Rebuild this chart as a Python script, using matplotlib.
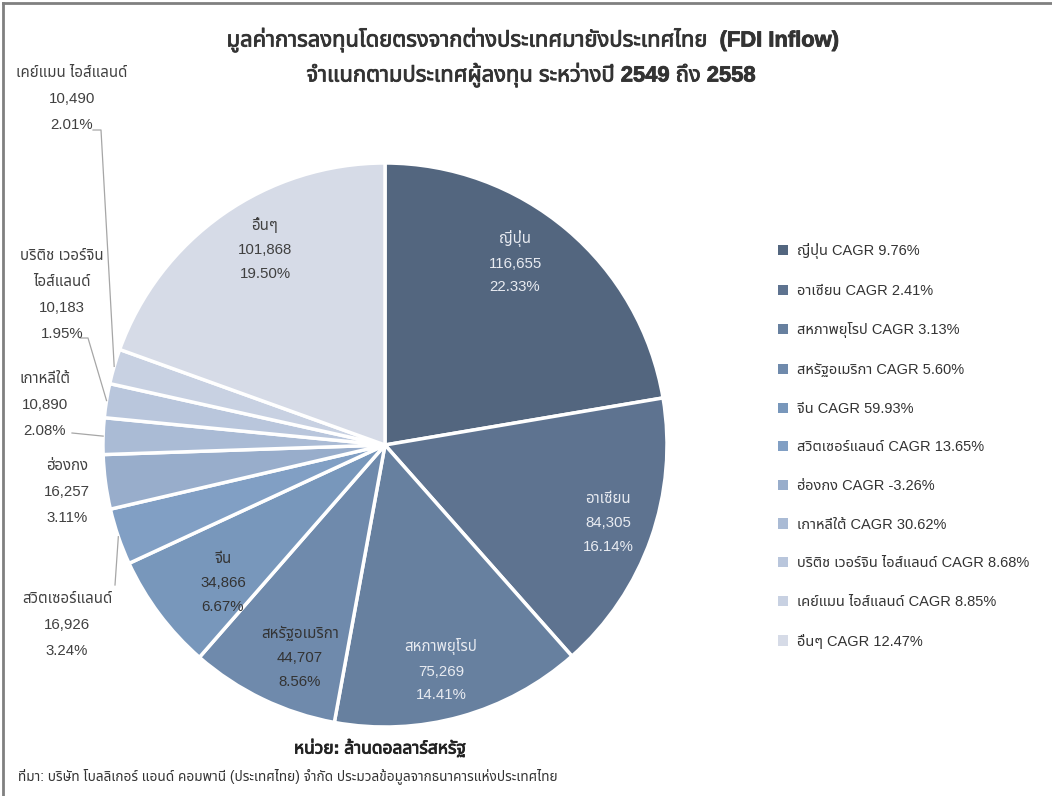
import matplotlib
matplotlib.use('Agg')
import matplotlib.pyplot as plt
import matplotlib.patheffects as pe
import numpy as np
from matplotlib import font_manager
from matplotlib.ft2font import FT2Font
from matplotlib.patches import Patch
from matplotlib.lines import Line2D

# Data (ล้านดอลลาร์สหรัฐ, 2549-2558)
countries = ['ญี่ปุ่น', 'อาเซียน', 'สหภาพยุโรป', 'สหรัฐอเมริกา', 'จีน', 'สวิตเซอร์แลนด์',
             'ฮ่องกง', 'เกาหลีใต้', 'บริติช เวอร์จิน ไอส์แลนด์', 'เคย์แมน ไอส์แลนด์', 'อื่นๆ']
values = [116655, 84305, 75269, 44707, 34866, 16926, 16257, 10890, 10183, 10490, 101868]
cagr = ['9.76%', '2.41%', '3.13%', '5.60%', '59.93%', '13.65%', '-3.26%', '30.62%',
        '8.68%', '8.85%', '12.47%']
colors = ['#53667f', '#5e7390', '#67809f', '#6f8aac', '#7897bb', '#819fc4',
          '#98adcb', '#aabbd5', '#b9c6dc', '#c8d1e2', '#d6dbe7']


# find a font that has Thai glyphs
def find_thai_font():
    found = {}
    for path in font_manager.findSystemFonts():
        try:
            f = FT2Font(path)
            if 0x0E01 in f.get_charmap():
                font_manager.fontManager.addfont(path)
                name = font_manager.FontProperties(fname=path).get_name()
                found.setdefault(name, path)
        except Exception:
            pass
    prefer = ['Tahoma', 'Arial Unicode MS', 'Noto Sans Thai', 'Noto Sans Thai UI', 'Loma',
              'Garuda', 'Sarabun', 'Leelawadee UI', 'Waree', 'Umpush', 'Norasi']
    for p in prefer:
        if p in found:
            return p
    return sorted(found)[0] if found else 'DejaVu Sans'


thai = find_thai_font()
fam = ['Liberation Sans', thai, 'DejaVu Sans']
plt.rcParams['font.family'] = fam

# fake bold (the Thai font may have no bold face)
bold_fx = lambda c: [pe.withStroke(linewidth=0.6, foreground=c)]

W, H = 1052, 796
fig = plt.figure(figsize=(W / 100, H / 100), dpi=100)

cx, cy, R = 385, 445, 282
ax = fig.add_axes([(cx - R) / W, (H - cy - R) / H, 2 * R / W, 2 * R / H])
wedges, _ = ax.pie(values, colors=colors, startangle=90, counterclock=False,
                   wedgeprops=dict(edgecolor='white', linewidth=2.5))
ax.set_xlim(-1, 1)
ax.set_ylim(-1, 1)
ax.set_aspect('equal')
ax.axis('off')


def px(x, y):
    return (x - cx) / R, (cy - y) / R


total = sum(values)
pcts = [f'{v / total * 100:.2f}%' for v in values]

# inside labels for the big slices (label centre in pixels, text colour)
inside = {
    0: ((515, 262), '#e8ebf1'),
    1: ((608, 523), '#e8ebf1'),
    2: ((441, 670), '#e8ebf1'),
    3: ((300, 657), '#333333'),
    4: ((223, 583), '#333333'),
    10: ((265, 249), '#404040'),
}
for i, (pos, col) in inside.items():
    tx, ty = px(*pos)
    ax.text(tx, ty, f'{countries[i]}\n{values[i]:,}\n{pcts[i]}',
            ha='center', va='center', fontsize=10.8, color=col, linespacing=1.9)

# outside labels with leader lines
outside = {
    5: ('สวิตเซอร์แลนด์', (67, 625), [(115, 585)]),
    6: ('ฮ่องกง', (67, 492), []),
    7: ('เกาหลีใต้', (45, 405), [(72, 433)]),
    8: ('บริติช เวอร์จิน\nไอส์แลนด์', (62, 295), [(80, 338), (88, 338)]),
    9: ('เคย์แมน ไอส์แลนด์', (72, 99), [(93, 130), (101, 130)]),
}
for i, (name, pos, pts) in outside.items():
    tx, ty = px(*pos)
    ax.text(tx, ty, f'{name}\n{values[i]:,}\n{pcts[i]}', ha='center', va='center',
            fontsize=10.8, color='#404040', linespacing=2.1, clip_on=False)
    if pts:
        w = wedges[i]
        ang = np.deg2rad((w.theta1 + w.theta2) / 2)
        xs = [px(*p)[0] for p in pts] + [np.cos(ang)]
        ys = [px(*p)[1] for p in pts] + [np.sin(ang)]
        ax.plot(xs, ys, color='#a6a6a6', lw=0.9, clip_on=False)

# legend
handles = [Patch(facecolor=c, edgecolor='none') for c in colors]
labels = [f'{n} CAGR {c}' for n, c in zip(countries, cagr)]
fig.legend(handles, labels, loc='upper left', bbox_to_anchor=(765 / W, 1 - 230 / H),
           frameon=False, fontsize=10.5, labelcolor='#333333', handlelength=0.7,
           handleheight=0.7, handletextpad=0.6, labelspacing=1.69)

# titles and notes
fig.text(533 / W, 1 - 40 / H, 'มูลค่าการลงทุนโดยตรงจากต่างประเทศมายังประเทศไทย  (FDI Inflow)',
         ha='center', va='center', fontsize=15.8, fontweight='bold', color='#333333',
         path_effects=bold_fx('#333333'))
fig.text(531 / W, 1 - 75 / H, 'จำแนกตามประเทศผู้ลงทุน ระหว่างปี 2549 ถึง 2558',
         ha='center', va='center', fontsize=15.8, fontweight='bold', color='#333333',
         path_effects=bold_fx('#333333'))
fig.text(380 / W, 1 - 748 / H, 'หน่วย: ล้านดอลลาร์สหรัฐ', ha='center', va='center',
         fontsize=12.5, fontweight='bold', color='#222222', path_effects=bold_fx('#222222'))
fig.text(18 / W, 1 - 776 / H,
         'ที่มา: บริษัท โบลลิเกอร์ แอนด์ คอมพานี (ประเทศไทย) จำกัด ประมวลข้อมูลจากธนาคารแห่งประเทศไทย',
         ha='left', va='center', fontsize=9.8, color='#333333')

# gray frame on top and left edges
fig.add_artist(Line2D([3 / W, 1], [1 - 3 / H, 1 - 3 / H], color='#808080', lw=2))
fig.add_artist(Line2D([3 / W, 3 / W], [0, 1 - 3 / H], color='#808080', lw=2))

fig.savefig('out.png', dpi=100)
